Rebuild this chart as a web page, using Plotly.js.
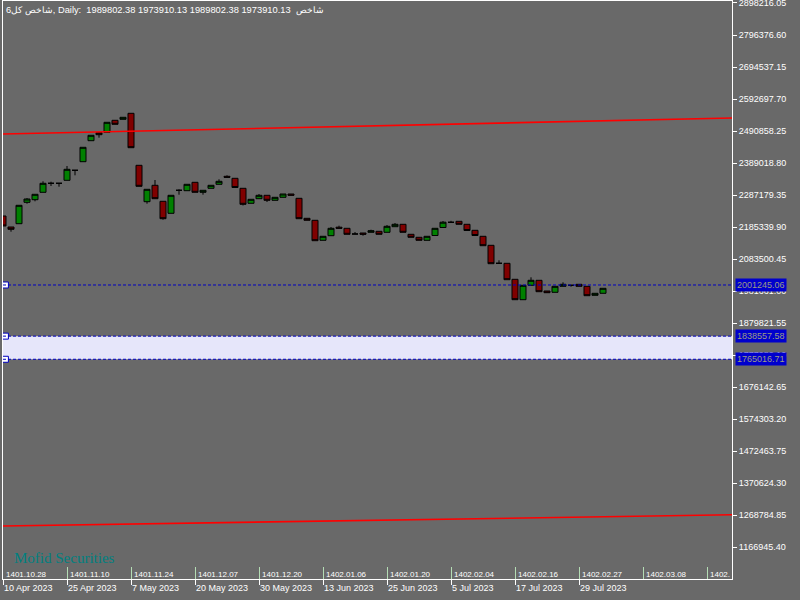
<!DOCTYPE html>
<html><head><meta charset="utf-8">
<script src="https://cdn.plot.ly/plotly-3.0.1.min.js"></script>
<style>html,body{margin:0;padding:0;background:#696969;}#chart{width:800px;height:600px;}</style>
</head><body><div id="chart"></div>
<script>
// ---- data ----
const barIndex = [0,1,2,3,4,5,6,7,8,9,10,11,12,13,14,15,16,17,18,19,20,21,22,23,24,25,26,27,28,29,30,31,32,33,34,35,36,37,38,39,40,41,42,43,44,45,46,47,48,49,50,51,52,53,54,55,56,57,58,59,60,61,62,63,64,65,66,67,68,69,70,71,72,73,74,75];
const openV = [2220700,2185700,2196200,2264260,2272530,2296070,2324690,2324690,2334240,2366040,2393400,2460190,2485630,2486910,2525070,2528250,2547340,2381950,2266170,2318330,2267440,2229280,2302430,2301160,2327880,2296070,2308790,2321510,2346960,2340600,2308790,2261080,2275710,2286530,2270620,2280170,2290660,2276990,2213370,2207010,2143400,2158030,2185070,2181570,2163440,2166620,2168850,2172030,2168850,2186660,2194290,2162480,2152940,2143400,2158670,2184110,2200650,2203830,2194290,2175210,2156120,2127500,2070250,2070250,2019360,1954470,2000270,2016180,1982140,1978010,1997090,2000270,2003450,1997090,1968470,1974830];
const highV = [2220700,2185700,2254700,2277940,2289710,2331060,2329780,2324690,2379720,2366040,2439200,2477360,2485630,2518710,2525070,2534610,2547340,2381950,2305610,2335190,2267440,2286530,2305610,2321510,2327880,2302430,2318330,2337420,2350140,2340600,2308790,2273800,2290660,2286530,2280170,2290660,2290660,2276990,2213370,2207010,2156120,2185700,2189840,2181570,2169800,2166620,2177110,2172030,2192060,2198420,2194290,2162480,2152940,2156120,2181570,2204790,2205420,2203830,2194290,2175210,2156120,2127500,2079790,2070250,2019360,2000270,2025720,2016180,1982140,1997090,2009820,2000270,2003450,1997090,1974830,1990730];
const lowV = [2188900,2170750,2196200,2259810,2267440,2296070,2316110,2313880,2334240,2350140,2393400,2460190,2469730,2486910,2512350,2528250,2437920,2315150,2259810,2275710,2208920,2229280,2288440,2301160,2296070,2288440,2308790,2321510,2343780,2311340,2254090,2261080,2275710,2265220,2270620,2280170,2286530,2212100,2207010,2142130,2143400,2158030,2181570,2162480,2163440,2158030,2168850,2162480,2168850,2186660,2168850,2152940,2143400,2143400,2158670,2184110,2200650,2194290,2174570,2158670,2126230,2068970,2070250,2018080,1954470,1954470,2000270,1979920,1976740,1978010,1997090,1995820,1997090,1967200,1968470,1974830];
const closeV = [2188900,2178390,2254700,2274760,2289710,2324690,2324690,2324690,2369220,2366040,2439200,2477360,2479270,2518710,2512350,2534610,2437920,2315150,2305610,2275710,2212100,2286530,2302430,2321510,2296070,2302430,2318330,2331060,2343780,2311340,2257900,2273800,2286530,2270620,2280170,2290660,2286530,2212100,2207010,2142130,2156120,2181570,2181570,2162480,2163440,2162480,2173930,2162480,2187930,2194290,2168850,2152940,2143400,2156120,2181570,2200970,2200650,2194290,2174570,2158670,2126230,2068970,2070250,2018080,1954470,2000270,2016180,1979920,1976740,1997090,2003450,2000270,1997090,1967200,1974830,1990730];

const yTickVals = [2898216.05,2796376.60,2694537.15,2592697.70,2490858.25,2389018.80,2287179.35,2185339.90,2083500.45,1981661.00,1879821.55,1777982.10,1676142.65,1574303.20,1472463.75,1370624.30,1268784.85,1166945.40];
const yRange = [1066130, 2904517];

const gregTickIdx = [0,8,16,24,32,40,48,56,64,72];
const gregLabels = ["10 Apr 2023","25 Apr 2023","7 May 2023","20 May 2023","30 May 2023","13 Jun 2023","25 Jun 2023","5 Jul 2023","17 Jul 2023","29 Jul 2023"];
const persTickIdx = [0,8,16,24,32,40,48,56,64,72,80,88];
const persLabels = ["1401.10.28","1401.11.10","1401.11.24","1401.12.07","1401.12.20","1402.01.06","1402.01.20","1402.02.04","1402.02.16","1402.02.27","1402.03.08","1402."];

const levelValues = [2001245.06, 1838557.58, 1765016.71];
const bandLow = 1765016.71, bandHigh = 1838557.58;

const channelX = [0, 91.125];
const upperChannel = [2481500, 2532400];
const lowerChannel = [1234700, 1270300];

const titleText = "6شاخص کل, Daily:\u00a0\u00a01989802.38 1973910.13 1989802.38 1973910.13\u00a0\u00a0شاخص";
const watermark = "Mofid Securities";

// ---- chart ----
const FONT = "Liberation Sans, Arial, sans-serif";
const xMax = 91.125;

const traces = [
  {type:'scatter', mode:'lines', x:channelX, y:upperChannel, xaxis:'x2', yaxis:'y',
   line:{color:'#ff0000', width:1.6}, hoverinfo:'skip'},
  {type:'scatter', mode:'lines', x:channelX, y:lowerChannel, xaxis:'x2', yaxis:'y',
   line:{color:'#ff0000', width:1.6}, hoverinfo:'skip'},
  {type:'candlestick', x:barIndex, open:openV, high:highV, low:lowV, close:closeV,
   whiskerwidth:0,
   increasing:{line:{color:'#000000', width:1}, fillcolor:'#008000'},
   decreasing:{line:{color:'#000000', width:1}, fillcolor:'#800000'},
   hoverinfo:'skip'},
  {type:'scatter', mode:'markers', x:levelValues.map(()=>0.3), y:levelValues,
   marker:{symbol:'square', size:6, color:'#ffffff', line:{color:'#0000c0', width:1}},
   cliponaxis:false, hoverinfo:'skip'}
];

const shapes = [
  {type:'rect', xref:'paper', yref:'y', x0:0, x1:1, y0:bandLow, y1:bandHigh,
   fillcolor:'#e6e6fa', line:{width:0}, layer:'below'}
].concat(levelValues.map(v => ({type:'line', xref:'paper', yref:'y', x0:0, x1:1, y0:v, y1:v,
   line:{color:'#0000c0', width:1, dash:'3px,2px'}, layer:'above'})));

const annotations = levelValues.map(v => ({
  xref:'paper', yref:'y', x:1, y:v, xanchor:'left', yanchor:'middle', xshift:3,
  text: v.toFixed(2), showarrow:false, bgcolor:'#0000cd', borderpad:1,
  font:{family:FONT, size:9, color:'#9c9c86'}
})).concat([{
  xref:'paper', yref:'paper', x:9/729, y:21/578, xanchor:'left', yanchor:'middle',
  text: watermark, showarrow:false,
  font:{family:'Liberation Serif, Times New Roman, serif', size:15, color:'#008080'}
}]).concat(persTickIdx.map((xi, k) => ({
  xref:'x', yref:'paper', x:xi, y:0, xanchor:'left', yanchor:'middle', xshift:2, yshift:5,
  text: persLabels[k], showarrow:false, borderpad:0,
  font:{family:FONT, size:8, color:'#ffffff'}
})));

const layout = {
  width:800, height:600,
  margin:{l:3, r:68, t:1, b:21, pad:0},
  paper_bgcolor:'#696969', plot_bgcolor:'#696969',
  showlegend:false,
  title:{text:titleText, x:6/800, xanchor:'left', xref:'container', y:1-10/600, yanchor:'middle', yref:'container',
         font:{family:FONT, size:9.3, color:'#ffffff'}},
  boxgap:0.25, boxgroupgap:0,
  xaxis:{range:[0,xMax], showgrid:false, zeroline:false, showline:true, linecolor:'#ffffff', linewidth:1, mirror:true,
         ticks:'outside', ticklen:5, tickcolor:'#ffffff', tickvals:gregTickIdx, ticktext:gregLabels,
         ticklabelposition:'outside right', tickfont:{family:FONT, size:9, color:'#ffffff'},
         rangeslider:{visible:false}, fixedrange:true},
  xaxis2:{overlaying:'x', matches:'x', anchor:'y', side:'bottom', showgrid:false, zeroline:false, showline:false,
         ticks:'inside', ticklen:12, tickcolor:'#b4dcb4', tickvals:persTickIdx, showticklabels:false},
  yaxis:{side:'right', range:yRange, showgrid:false, zeroline:false, showline:true, mirror:true, linecolor:'#ffffff',
         ticks:'outside', ticklen:4, tickcolor:'#ffffff', tickvals:yTickVals, ticktext:yTickVals.map(v=>v.toFixed(2)),
         ticklabeloverflow:'allow', tickfont:{family:FONT, size:9, color:'#ffffff'}, fixedrange:true},
  shapes:shapes, annotations:annotations
};

Plotly.newPlot('chart', traces, layout, {staticPlot:true, displayModeBar:false});
</script></body></html>
